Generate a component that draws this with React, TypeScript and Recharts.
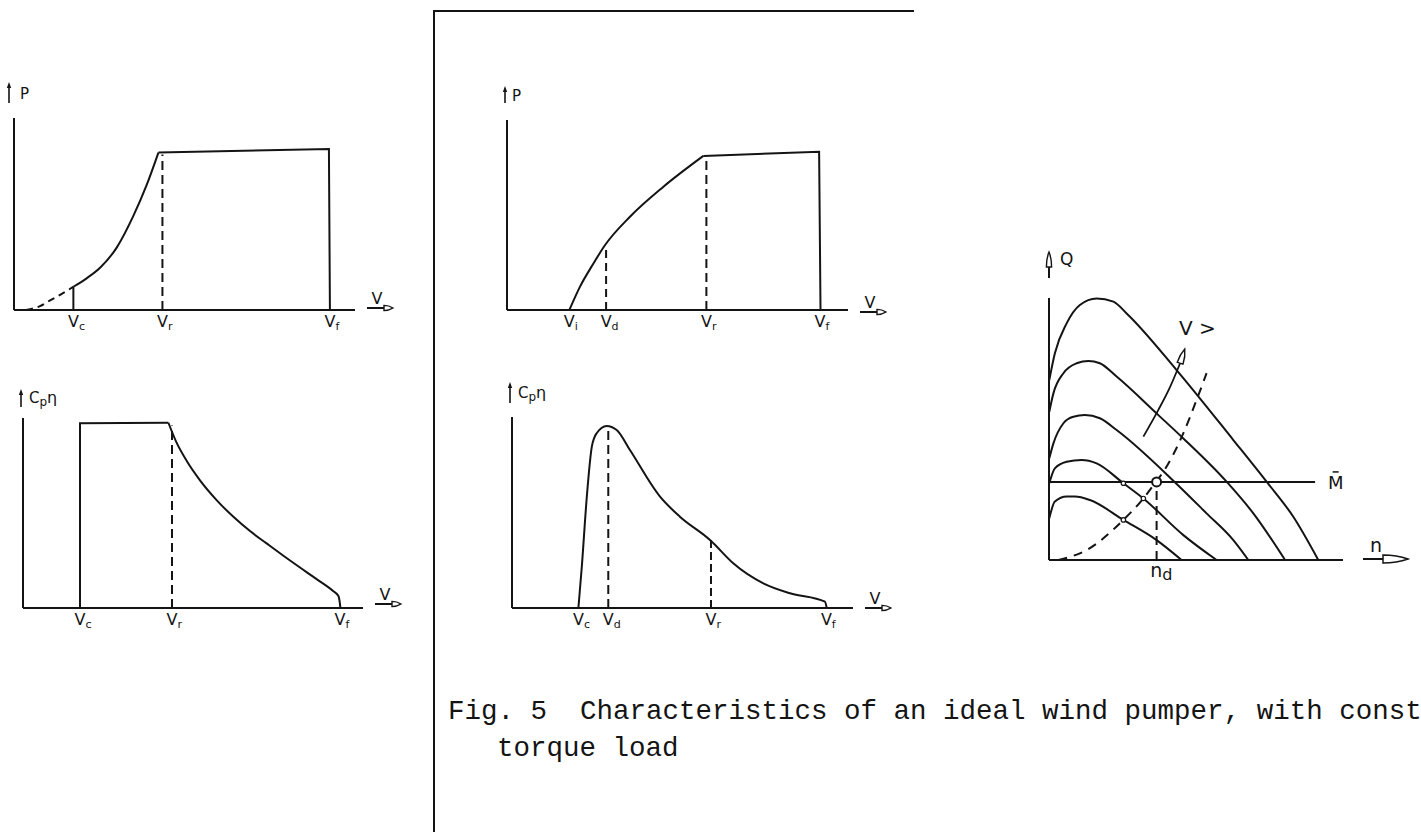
import React from "react";
import {
  ComposedChart,
  Line,
  XAxis,
  YAxis,
  ReferenceLine,
  ReferenceDot,
  Label,
} from "recharts";

// ---------- (a) power, rotor at rated limit ----------
const speedTicksA = [2.96, 7.4, 15.75];
const speedSubsA = ["c", "r", "f"];
const powerCutInA = [
  { v: 0.6, p: 0 },
  { v: 1.3, p: 0.02 },
  { v: 1.8, p: 0.05 },
  { v: 2.4, p: 0.085 },
  { v: 2.96, p: 0.121 },
];
const powerStepA = [
  { v: 2.96, p: 0 },
  { v: 2.96, p: 0.121 },
];
const powerRiseA = [
  { v: 2.96, p: 0.121 },
  { v: 3.62, p: 0.165 },
  { v: 4.29, p: 0.22 },
  { v: 5.12, p: 0.325 },
  { v: 5.95, p: 0.49 },
  { v: 6.61, p: 0.65 },
  { v: 7.2, p: 0.82 },
];
const powerRatedA = [
  { v: 7.2, p: 0.82 },
  { v: 15.7, p: 0.839 },
  { v: 15.75, p: 0 },
];
const ratedPowerA = 0.81;

// ---------- (b) Cp·eta for the same machine ----------
const speedTicksB = [2.85, 7.45, 15.85];
const speedSubsB = ["c", "r", "f"];
const effStepB = [
  { v: 2.85, c: 0 },
  { v: 2.85, c: 0.972 },
  { v: 7.27, c: 0.975 },
];
const effDecayB = [
  { v: 7.27, c: 0.975 },
  { v: 7.68, c: 0.87 },
  { v: 8.18, c: 0.775 },
  { v: 8.85, c: 0.672 },
  { v: 9.68, c: 0.568 },
  { v: 10.52, c: 0.48 },
  { v: 11.35, c: 0.405 },
  { v: 12.18, c: 0.34 },
  { v: 13.02, c: 0.275 },
  { v: 13.85, c: 0.213 },
  { v: 14.68, c: 0.152 },
  { v: 15.52, c: 0.088 },
  { v: 15.77, c: 0.063 },
  { v: 15.84, c: 0.028 },
  { v: 15.87, c: 0 },
];
const ratedEffB = 0.96;

// ---------- (c) power, wind pumper ----------
const speedTicksC = [3.1, 4.94, 9.94, 15.6];
const speedSubsC = ["i", "d", "r", "f"];
const powerRiseC = [
  { v: 3.11, p: 0 },
  { v: 3.64, p: 0.123 },
  { v: 4.31, p: 0.245 },
  { v: 4.89, p: 0.342 },
  { v: 6.13, p: 0.491 },
  { v: 7.8, p: 0.649 },
  { v: 9.79, p: 0.811 },
];
const powerRatedC = [
  { v: 9.79, p: 0.811 },
  { v: 15.56, p: 0.833 },
  { v: 15.63, p: 0 },
];
const designPowerC = 0.342;
const ratedPowerC = 0.81;

// ---------- (d) Cp·eta, wind pumper ----------
const speedTicksD = [3.31, 4.8, 9.92, 15.67];
const speedSubsD = ["c", "d", "r", "f"];
const effCurveD = [
  { v: 3.31, c: 0 },
  { v: 3.48, c: 0.216 },
  { v: 3.73, c: 0.583 },
  { v: 3.98, c: 0.845 },
  { v: 4.22, c: 0.915 },
  { v: 4.72, c: 0.953 },
  { v: 5.22, c: 0.932 },
  { v: 5.88, c: 0.827 },
  { v: 7.38, c: 0.583 },
  { v: 8.37, c: 0.478 },
  { v: 9.87, c: 0.356 },
  { v: 10.04, c: 0.339 },
  { v: 11.03, c: 0.234 },
  { v: 12.53, c: 0.129 },
  { v: 13.86, c: 0.077 },
  { v: 15.6, c: 0.033 },
  { v: 15.69, c: 0 },
];
const peakEffD = 0.95;
const ratedEffD = 0.356;

// ---------- (e) rotor torque vs speed, one curve per wind speed ----------
const torqueCurve1 = [
  { n: 0.01, q: 0.687 },
  { n: 0.2, q: 0.789 },
  { n: 0.6, q: 0.903 },
  { n: 1.05, q: 0.973 },
  { n: 1.62, q: 0.998 },
  { n: 2.19, q: 0.986 },
  { n: 2.64, q: 0.941 },
  { n: 4.34, q: 0.725 },
  { n: 6.27, q: 0.458 },
  { n: 7.4, q: 0.299 },
  { n: 8.31, q: 0.165 },
  { n: 9.16, q: 0 },
];
const torqueCurve2 = [
  { n: 0.01, q: 0.566 },
  { n: 0.15, q: 0.636 },
  { n: 0.49, q: 0.713 },
  { n: 0.94, q: 0.751 },
  { n: 1.34, q: 0.76 },
  { n: 1.73, q: 0.751 },
  { n: 2.3, q: 0.7 },
  { n: 3.72, q: 0.553 },
  { n: 4.57, q: 0.464 },
  { n: 6.04, q: 0.299 },
  { n: 6.95, q: 0.178 },
  { n: 8.03, q: 0 },
];
const torqueCurve3 = [
  { n: 0.01, q: 0.388 },
  { n: 0.15, q: 0.445 },
  { n: 0.49, q: 0.522 },
  { n: 0.83, q: 0.547 },
  { n: 1.22, q: 0.553 },
  { n: 1.73, q: 0.541 },
  { n: 2.3, q: 0.496 },
  { n: 4.29, q: 0.296 },
  { n: 5.36, q: 0.178 },
  { n: 6.27, q: 0.076 },
  { n: 6.78, q: 0 },
];
const torqueCurve4 = [
  { n: 0.01, q: 0.293 },
  { n: 0.2, q: 0.35 },
  { n: 0.6, q: 0.375 },
  { n: 1.11, q: 0.382 },
  { n: 1.62, q: 0.369 },
  { n: 2.53, q: 0.293 },
  { n: 3.21, q: 0.235 },
  { n: 4.57, q: 0.095 },
  { n: 5.7, q: 0 },
];
const torqueCurve5 = [
  { n: 0.01, q: 0.159 },
  { n: 0.2, q: 0.223 },
  { n: 0.6, q: 0.242 },
  { n: 0.88, q: 0.242 },
  { n: 1.39, q: 0.229 },
  { n: 2.53, q: 0.153 },
  { n: 3.66, q: 0.076 },
  { n: 4.51, q: 0 },
];
const optimumLocus = [
  { n: 0.32, q: 0 },
  { n: 1.28, q: 0.038 },
  { n: 2.53, q: 0.153 },
  { n: 3.21, q: 0.235 },
  { n: 3.62, q: 0.296 },
  { n: 3.89, q: 0.337 },
  { n: 4.57, q: 0.484 },
  { n: 5.02, q: 0.611 },
  { n: 5.36, q: 0.713 },
];
const risingWindArrow = [
  { n: 3.21, q: 0.471 },
  { n: 3.72, q: 0.573 },
  { n: 4.12, q: 0.661 },
  { n: 4.46, q: 0.751 },
];
const loadTorque = 0.298;
const loadLineEnd = 9.05;
const designSpeed = 3.66;
const locusMarks = [
  { n: 2.53, q: 0.153 },
  { n: 3.21, q: 0.235 },
  { n: 2.53, q: 0.293 },
];
const speedTicksE = [designSpeed];

// ---------- shared drawing helpers ----------
const INK = "#141414";
const HAND = "'DejaVu Sans', 'Liberation Sans', sans-serif";
const AXIS = { stroke: INK, strokeWidth: 2 };

const hollowHead = (x: number, y: number, len: number, half: number) =>
  `M${x},${y - half} Q${x + len * 0.55},${y - half} ${x + len},${y} Q${x + len * 0.55},${y + half} ${x},${y + half} Z`;

const subTick =
  (values: number[], subs: string[], main = "V", size = 16, subSize = 11) =>
  (props: any) => {
    const { x, y, payload } = props;
    const i = values.indexOf(payload.value);
    return (
      <text x={x - size * 0.34} y={y + 17} fontSize={size} fontFamily={HAND} fill={INK}>
        {main}
        <tspan fontSize={subSize} dy={3}>
          {subs[i]}
        </tspan>
      </text>
    );
  };

const speedArrow = (lift: number) => (props: any) => {
  const { x, y, width } = props.viewBox;
  const x0 = x + width + 12;
  const y0 = y + lift;
  return (
    <g>
      <text x={x0 + 10} y={y0 - 4} textAnchor="middle" fontSize={16} fontFamily={HAND} fill={INK}>
        V
      </text>
      <line x1={x0} y1={y0} x2={x0 + 17} y2={y0} stroke={INK} strokeWidth={2} />
      <path d={hollowHead(x0 + 17, y0, 9, 2.6)} fill="#fff" stroke={INK} strokeWidth={1.4} />
    </g>
  );
};

const quantityArrow =
  (kind: "P" | "C", dx: number, top: number, bottom: number, textDx: number, baseline: number) =>
  (props: any) => {
    const { x, y, width } = props.viewBox;
    const ax = x + width + dx;
    return (
      <g>
        <line x1={ax} y1={y - bottom} x2={ax} y2={y - top + 5} stroke={INK} strokeWidth={1.6} />
        <path d={`M${ax - 2.2},${y - top + 6} L${ax},${y - top} L${ax + 2.2},${y - top + 6} Z`} fill={INK} />
        {kind === "P" ? (
          <text x={ax + textDx} y={y - baseline} fontSize={15} fontFamily={HAND} fill={INK}>
            P
          </text>
        ) : (
          <text x={ax + textDx} y={y - baseline} fontSize={15} fontFamily={HAND} fill={INK}>
            C
            <tspan fontSize={12} dy={3}>
              p
            </tspan>
            <tspan fontSize={16} dy={-3}>
              η
            </tspan>
          </text>
        )}
      </g>
    );
  };

const torqueAxisLabel = (props: any) => {
  const { x, y, width } = props.viewBox;
  const ax = x + width;
  return (
    <g>
      <line x1={ax} y1={y - 20} x2={ax} y2={y - 31} stroke={INK} strokeWidth={2} />
      <path
        d={`M${ax - 2.6},${y - 31} Q${ax - 2.6},${y - 40} ${ax},${y - 46} Q${ax + 2.6},${y - 40} ${ax + 2.6},${y - 31} Z`}
        fill="#fff"
        stroke={INK}
        strokeWidth={1.4}
      />
      <text x={ax + 11} y={y - 33} fontSize={17} fontFamily={HAND} fill={INK}>
        Q
      </text>
    </g>
  );
};

const rotorSpeedLabel = (props: any) => {
  const { x, y, width } = props.viewBox;
  const x0 = x + width + 20;
  return (
    <g>
      <text x={x0 + 13} y={y - 8} textAnchor="middle" fontSize={19} fontFamily={HAND} fill={INK}>
        n
      </text>
      <line x1={x0} y1={y - 1} x2={x0 + 21} y2={y - 1} stroke={INK} strokeWidth={2} />
      <path d={hollowHead(x0 + 20, y - 1, 25, 4)} fill="#fff" stroke={INK} strokeWidth={1.5} />
    </g>
  );
};

const lineStyle = {
  stroke: INK,
  strokeWidth: 2,
  dot: false,
  activeDot: false,
  isAnimationActive: false,
  legendType: "none" as const,
};

const Panel = ({ left, top, children }: { left: number; top: number; children: React.ReactNode }) => (
  <div style={{ position: "absolute", left, top }}>{children}</div>
);

// thin axes: 1px of axis band so the axis is still drawn
const xAxisBase = {
  type: "number" as const,
  interval: 0 as const,
  height: 1,
  tickSize: 0,
  tickMargin: 0,
  tickLine: false,
  axisLine: AXIS,
};
const yAxisBase = {
  type: "number" as const,
  domain: [0, 1] as [number, number],
  width: 1,
  tick: false,
  tickLine: false,
  axisLine: AXIS,
};

export default function App() {
  return (
    <div
      style={{
        position: "absolute",
        left: 0,
        top: 0,
        width: 1421,
        height: 832,
        background: "#fff",
        overflow: "hidden",
      }}
    >
      {/* frame around the wind-pumper column */}
      <div
        style={{
          position: "absolute",
          left: 433,
          top: 10,
          width: 479,
          height: 830,
          borderLeft: `2px solid ${INK}`,
          borderTop: `2px solid ${INK}`,
        }}
      />

      {/* (a) P(V) */}
      <Panel left={0} top={60}>
        <ComposedChart width={430} height={290} margin={{ top: 58, right: 75, bottom: 39, left: 13 }}>
          <XAxis
            {...xAxisBase}
            dataKey="v"
            domain={[0, 17]}
            ticks={speedTicksA}
            tick={subTick(speedTicksA, speedSubsA)}
            label={<Label content={speedArrow(-2)} />}
          />
          <YAxis {...yAxisBase} label={<Label content={quantityArrow("P", -5, 36, 15, 11, 19)} />} />
          <ReferenceLine
            segment={[
              { x: 7.4, y: 0 },
              { x: 7.4, y: ratedPowerA },
            ]}
            stroke={INK}
            strokeWidth={2}
            strokeDasharray="9 5"
          />
          <Line {...lineStyle} data={powerCutInA} dataKey="p" type="monotone" strokeDasharray="7 5" />
          <Line {...lineStyle} data={powerStepA} dataKey="p" type="linear" />
          <Line {...lineStyle} data={powerRiseA} dataKey="p" type="monotone" />
          <Line {...lineStyle} data={powerRatedA} dataKey="p" type="linear" />
        </ComposedChart>
      </Panel>

      {/* (b) Cp·eta(V) */}
      <Panel left={0} top={360}>
        <ComposedChart width={430} height={290} margin={{ top: 58, right: 67, bottom: 41, left: 22 }}>
          <XAxis
            {...xAxisBase}
            dataKey="v"
            domain={[0, 17]}
            ticks={speedTicksB}
            tick={subTick(speedTicksB, speedSubsB)}
            label={<Label content={speedArrow(-4)} />}
          />
          <YAxis {...yAxisBase} label={<Label content={quantityArrow("C", -2, 29, 11, 8, 15)} />} />
          <ReferenceLine
            segment={[
              { x: 7.45, y: 0 },
              { x: 7.45, y: ratedEffB },
            ]}
            stroke={INK}
            strokeWidth={2}
            strokeDasharray="9 5"
          />
          <Line {...lineStyle} data={effStepB} dataKey="c" type="linear" />
          <Line {...lineStyle} data={effDecayB} dataKey="c" type="monotone" />
        </ComposedChart>
      </Panel>

      {/* (c) P(V), wind pumper */}
      <Panel left={440} top={60}>
        <ComposedChart width={470} height={290} margin={{ top: 60, right: 62, bottom: 39, left: 66 }}>
          <XAxis
            {...xAxisBase}
            dataKey="v"
            domain={[0, 17]}
            ticks={speedTicksC}
            tick={subTick(speedTicksC, speedSubsC)}
            label={<Label content={speedArrow(2)} />}
          />
          <YAxis {...yAxisBase} label={<Label content={quantityArrow("P", -2, 34, 17, 7, 19)} />} />
          <ReferenceLine
            segment={[
              { x: 4.94, y: 0 },
              { x: 4.94, y: designPowerC },
            ]}
            stroke={INK}
            strokeWidth={2}
            strokeDasharray="8 5"
          />
          <ReferenceLine
            segment={[
              { x: 9.94, y: 0 },
              { x: 9.94, y: ratedPowerC },
            ]}
            stroke={INK}
            strokeWidth={2}
            strokeDasharray="9 5"
          />
          <Line {...lineStyle} data={powerRiseC} dataKey="p" type="monotone" />
          <Line {...lineStyle} data={powerRatedC} dataKey="p" type="linear" />
        </ComposedChart>
      </Panel>

      {/* (d) Cp·eta(V), wind pumper */}
      <Panel left={440} top={360}>
        <ComposedChart width={470} height={290} margin={{ top: 57, right: 57, bottom: 41, left: 71 }}>
          <XAxis
            {...xAxisBase}
            dataKey="v"
            domain={[0, 17]}
            ticks={speedTicksD}
            tick={subTick(speedTicksD, speedSubsD)}
            label={<Label content={speedArrow(0)} />}
          />
          <YAxis {...yAxisBase} label={<Label content={quantityArrow("C", -2, 35, 14, 8, 19)} />} />
          <ReferenceLine
            segment={[
              { x: 4.8, y: 0 },
              { x: 4.8, y: peakEffD },
            ]}
            stroke={INK}
            strokeWidth={2}
            strokeDasharray="9 5"
          />
          <ReferenceLine
            segment={[
              { x: 9.92, y: 0 },
              { x: 9.92, y: ratedEffD },
            ]}
            stroke={INK}
            strokeWidth={2}
            strokeDasharray="8 4"
          />
          <Line {...lineStyle} data={effCurveD} dataKey="c" type="monotone" />
        </ComposedChart>
      </Panel>

      {/* (e) Q(n) for rising wind speeds, constant load torque M */}
      <Panel left={1000} top={240}>
        <ComposedChart width={421} height={360} margin={{ top: 58, right: 78, bottom: 39, left: 48 }}>
          <XAxis
            {...xAxisBase}
            dataKey="n"
            domain={[0, 10]}
            ticks={speedTicksE}
            tick={subTick(speedTicksE, ["d"], "n", 19, 16)}
            label={<Label content={rotorSpeedLabel} />}
          />
          <YAxis {...yAxisBase} label={<Label content={torqueAxisLabel} />} />
          <ReferenceLine
            segment={[
              { x: 0, y: loadTorque },
              { x: loadLineEnd, y: loadTorque },
            ]}
            stroke={INK}
            strokeWidth={2}
          />
          <ReferenceLine
            segment={[
              { x: designSpeed, y: 0 },
              { x: designSpeed, y: loadTorque },
            ]}
            stroke={INK}
            strokeWidth={2}
            strokeDasharray="9 6"
          />
          <Line {...lineStyle} data={torqueCurve1} dataKey="q" type="monotone" />
          <Line {...lineStyle} data={torqueCurve2} dataKey="q" type="monotone" />
          <Line {...lineStyle} data={torqueCurve3} dataKey="q" type="monotone" />
          <Line {...lineStyle} data={torqueCurve4} dataKey="q" type="monotone" />
          <Line {...lineStyle} data={torqueCurve5} dataKey="q" type="monotone" />
          <Line {...lineStyle} data={optimumLocus} dataKey="q" type="monotone" strokeDasharray="9 7" />
          <Line {...lineStyle} data={risingWindArrow} dataKey="q" type="monotone" strokeWidth={1.8} />
          <ReferenceDot
            x={4.46}
            y={0.751}
            r={1}
            shape={(p: any) => (
              <path
                d={hollowHead(0, 0, 15, 3)}
                transform={`translate(${p.cx},${p.cy}) rotate(-72)`}
                fill="#fff"
                stroke={INK}
                strokeWidth={1.4}
              />
            )}
          />
          {locusMarks.map((m, i) => (
            <ReferenceDot key={i} x={m.n} y={m.q} r={2.2} fill="#fff" stroke={INK} strokeWidth={1.2} />
          ))}
          <ReferenceDot x={designSpeed} y={loadTorque} r={4.5} fill="#fff" stroke={INK} strokeWidth={2} />
          <ReferenceDot
            x={9.75}
            y={loadTorque}
            r={1}
            shape={(p: any) => (
              <g>
                <text x={p.cx} y={p.cy + 7} textAnchor="middle" fontSize={18} fontFamily={HAND} fill={INK}>
                  M
                </text>
                <line x1={p.cx - 3} y1={p.cy - 10} x2={p.cx + 3} y2={p.cy - 10} stroke={INK} strokeWidth={1.5} />
              </g>
            )}
          />
          <ReferenceDot
            x={5.05}
            y={0.889}
            r={1}
            shape={(p: any) => (
              <text x={p.cx} y={p.cy + 8} textAnchor="middle" fontSize={20} fontFamily={HAND} fill={INK}>
                {"V >"}
              </text>
            )}
          />
        </ComposedChart>
      </Panel>

      {/* caption */}
      <div
        style={{
          position: "absolute",
          left: 448,
          top: 693,
          fontFamily: "'Liberation Mono', 'DejaVu Sans Mono', monospace",
          fontSize: 27.5,
          lineHeight: "37px",
          whiteSpace: "pre",
          color: INK,
        }}
      >
        <div>{"Fig. 5  Characteristics of an ideal wind pumper, with const"}</div>
        <div style={{ paddingLeft: 49 }}>{"torque load"}</div>
      </div>
    </div>
  );
}
